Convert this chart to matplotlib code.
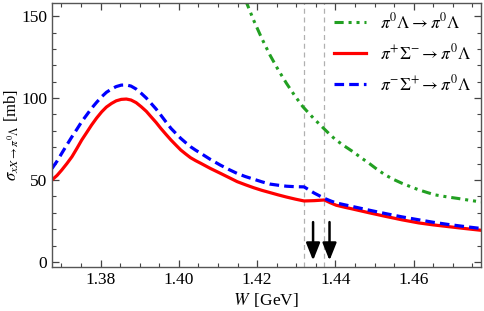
import numpy as np
import matplotlib
matplotlib.use("Agg")
import matplotlib.pyplot as plt
from matplotlib.ticker import MultipleLocator

# values
w_red = [1.3676, 1.3689, 1.3701, 1.3714, 1.3727, 1.3740, 1.3752, 1.3765, 1.3777,
         1.3790, 1.3803, 1.3815, 1.3828, 1.3840, 1.3853, 1.3866, 1.3878, 1.3891,
         1.3904, 1.3917, 1.3929, 1.3942, 1.3954, 1.3967, 1.3980, 1.3993, 1.4005,
         1.4018, 1.4030, 1.4043, 1.4056, 1.4081, 1.4106, 1.4128, 1.4149, 1.4170,
         1.4191, 1.4212, 1.4233, 1.4254, 1.4275, 1.4298, 1.4320, 1.4346, 1.4372,
         1.4387, 1.4402, 1.4423, 1.4444, 1.4486, 1.4528, 1.4570, 1.4613, 1.4650,
         1.4690, 1.4730, 1.4772]
sig_red = [50.0, 52.8, 56.1, 60.0, 64.2, 69.4, 74.4, 79.1, 83.5,
           87.8, 91.6, 94.5, 96.7, 98.3, 99.2, 99.4, 98.8, 97.2,
           94.7, 91.9, 88.6, 85.1, 81.5, 77.9, 74.4, 71.2, 68.3,
           65.8, 63.6, 61.8, 60.2, 57.0, 54.1, 51.5, 49.0, 47.1,
           45.3, 43.7, 42.3, 40.9, 39.6, 38.3, 37.2, 37.4, 37.8,
           36.1, 34.6, 33.4, 32.3, 30.0, 27.8, 25.7, 23.8, 22.6,
           21.5, 20.4, 19.3]

w_blue = [1.3676, 1.3689, 1.3701, 1.3714, 1.3727, 1.3740, 1.3752, 1.3765, 1.3777,
          1.3790, 1.3803, 1.3815, 1.3828, 1.3840, 1.3853, 1.3866, 1.3878, 1.3891,
          1.3904, 1.3917, 1.3929, 1.3942, 1.3954, 1.3967, 1.3980, 1.3993, 1.4005,
          1.4018, 1.4030, 1.4043, 1.4056, 1.4081, 1.4106, 1.4128, 1.4149, 1.4170,
          1.4191, 1.4212, 1.4233, 1.4254, 1.4275, 1.4298, 1.4320, 1.4346, 1.4372,
          1.4387, 1.4402, 1.4423, 1.4444, 1.4486, 1.4528, 1.4570, 1.4613, 1.4650,
          1.4690, 1.4730, 1.4772]
sig_blue = [57.0, 61.5, 66.3, 71.4, 76.4, 81.1, 85.6, 89.8, 93.7,
            97.4, 100.8, 103.5, 105.5, 107.0, 107.9, 108.0, 107.3, 105.5,
            102.9, 100.0, 96.8, 93.3, 89.6, 85.5, 81.5, 78.3, 75.4,
            72.7, 70.3, 68.2, 66.3, 62.5, 59.1, 56.4, 54.0, 52.1,
            50.5, 48.9, 47.5, 46.8, 46.2, 45.9, 45.8, 42.0, 38.8,
            37.3, 36.0, 34.9, 33.8, 31.6, 29.5, 27.5, 25.7, 24.2,
            22.8, 21.6, 20.4]

w_green = [1.4170, 1.4191, 1.4212, 1.4233, 1.4254, 1.4275, 1.4296, 1.4317, 1.4344,
           1.4370, 1.4385, 1.4400, 1.4422, 1.4444, 1.4465, 1.4486, 1.4507, 1.4528,
           1.4549, 1.4570, 1.4592, 1.4613, 1.4634, 1.4655, 1.4685, 1.4714, 1.4743,
           1.4772]
sig_green = [160.0, 147.6, 136.4, 126.2, 117.2, 109.0, 101.5, 94.7, 87.7,
             81.5, 78.0, 74.7, 70.9, 67.4, 63.7, 60.2, 56.4, 53.0,
             50.3, 48.0, 45.9, 44.0, 42.4, 40.9, 39.7, 38.7, 37.6,
             36.6]

thresholds = [1.4320, 1.4372]
arrows_w = [1.4343, 1.4385]

plt.rcParams['font.family'] = ['Liberation Serif', 'DejaVu Serif']
plt.rcParams['mathtext.fontset'] = 'stix'

fig = plt.figure(figsize=(4.84, 3.11), dpi=100)
ax = fig.add_axes([0.1074, 0.1399, 0.8864, 0.8504])

for t in thresholds:
    ax.axvline(t, color='#b0b0b0', lw=0.9, ls=(0, (4, 3)), zorder=1)

ax.plot(w_green, sig_green, color='#22a022', lw=2.2,
        ls=(0, (3, 1.6, 1, 1.6, 1, 1.6)),
        label=r'$\pi^0\Lambda \rightarrow \pi^0\Lambda$')
ax.plot(w_red, sig_red, color='#ff0000', lw=2.3,
        label=r'$\pi^{+}\Sigma^{-} \rightarrow \pi^0\Lambda$')
ax.plot(w_blue, sig_blue, color='#0000ff', lw=2.3, ls=(0, (3, 1.6)),
        label=r'$\pi^{-}\Sigma^{+} \rightarrow \pi^0\Lambda$')

for a in arrows_w:
    ax.annotate('', xy=(a, -0.8), xytext=(a, 26),
                arrowprops=dict(arrowstyle='-|>,head_width=0.42,head_length=1.05',
                                color='black', lw=1.8))

ax.set_xlim(1.3676, 1.4772)
ax.set_ylim(-3.4, 158)
ax.xaxis.set_major_locator(MultipleLocator(0.02))
ax.xaxis.set_minor_locator(MultipleLocator(0.005))
ax.yaxis.set_major_locator(MultipleLocator(50))
ax.yaxis.set_minor_locator(MultipleLocator(10))
ax.set_xticks([1.38, 1.40, 1.42, 1.44, 1.46])
ax.set_xticklabels(['1.38', '1.40', '1.42', '1.44', '1.46'])
ax.tick_params(which='both', direction='in', top=True, right=True,
               colors='#444444', labelcolor='black', labelsize=12.5)
ax.tick_params(which='major', length=5, width=0.9)
ax.tick_params(which='minor', length=3, width=0.8)
for s in ax.spines.values():
    s.set_color('#555555')
    s.set_linewidth(1.0)

ax.set_xlabel(r'$W\,$ [GeV]', fontsize=12.5, labelpad=2)
ax.set_ylabel(r'$\sigma_{xX\rightarrow\pi^0\Lambda}$ [mb]', fontsize=12, labelpad=0)

leg = ax.legend(loc='upper right', frameon=False, fontsize=12.5,
                handlelength=1.9, labelspacing=0.62, borderaxespad=0.0,
                borderpad=0.55, handletextpad=0.8)

fig.savefig('out.png', dpi=100)
